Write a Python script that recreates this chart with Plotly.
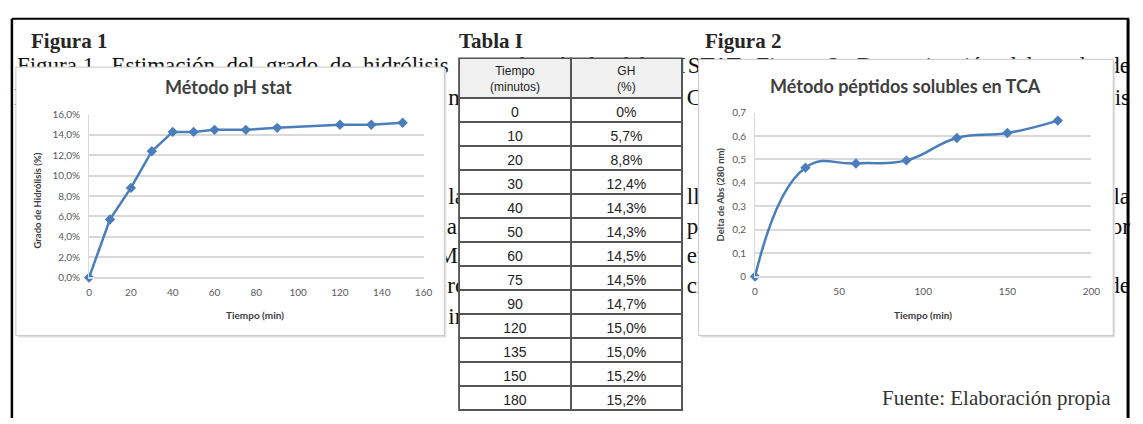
import plotly.graph_objects as go

W, H = 1143, 424

# ---------------- data ----------------
tiempo_ph = [0, 10, 20, 30, 40, 50, 60, 75, 90, 120, 135, 150]
gh_ph = [0.0, 5.7, 8.8, 12.4, 14.3, 14.3, 14.5, 14.5, 14.7, 15.0, 15.0, 15.2]

tiempo_tca = [0, 30, 60, 90, 120, 150, 180]
abs_tca = [0.0, 0.465, 0.483, 0.496, 0.592, 0.613, 0.666]

tabla_tiempo = ["0", "10", "20", "30", "40", "50", "60", "75", "90", "120", "135", "150", "180"]
tabla_gh = ["0%", "5,7%", "8,8%", "12,4%", "14,3%", "14,3%", "14,5%", "14,5%", "14,7%",
            "15,0%", "15,0%", "15,2%", "15,2%"]
tabla_header = ["Tiempo<br>(minutos)", "GH<br>(%)"]

y1_tickvals = [0, 2, 4, 6, 8, 10, 12, 14, 16]
y1_ticktext = ["0,0%", "2,0%", "4,0%", "6,0%", "8,0%", "10,0%", "12,0%", "14,0%", "16,0%"]
x1_tickvals = [0, 20, 40, 60, 80, 100, 120, 140, 160]

y2_tickvals = [0, 0.1, 0.2, 0.3, 0.4, 0.5, 0.6, 0.7]
y2_ticktext = ["0", "0,1", "0,2", "0,3", "0,4", "0,5", "0,6", "0,7"]
x2_tickvals = [0, 50, 100, 150, 200]

# ---------------- helpers ----------------
def px(x):
    return x / W

def py(y):
    return 1 - y / H

BLUE = "#4a7ebb"
GRID = "#d9d9d9"
TICKC = "#595959"
TITLEC = "#404040"
SERIF = "Liberation Serif"
SANS = "Lato"

shapes = []
annotations = []

def body(text, x, y, anchor="left", size=23):
    if anchor == "left":
        x0, x1, pos = x, x + 1, "middle left"
    else:
        x0, x1, pos = x - 1, x, "middle right"
    shapes.append(dict(
        type="rect", xref="paper", yref="paper", layer="below",
        x0=px(x0), x1=px(x1), y0=py(y + 1), y1=py(y - 1),
        line=dict(width=0), fillcolor="rgba(0,0,0,0)",
        label=dict(text=text, font=dict(family=SERIF, size=size, color="#111111"),
                   textposition=pos, xanchor=anchor, yanchor="middle", padding=0),
    ))

NB = "\u00a0"
# occluded body text (drawn beneath the figure boxes)
body(f"Figura 1.{NB} Estimación{NB} del{NB} grado{NB} de{NB} hidrólisis", 11, 57)
body(f"por{NB} el{NB} método{NB} del{NB} pH", 466, 57)
body(f"STAT.{NB} Figura{NB} 2.{NB} Determinación{NB} del{NB} grado{NB} de", 1142, 57, anchor="right")
body("ln", 8, 90)
body("n", 447, 90)
body("CA", 688, 90)
body("sis", 1142, 90, anchor="right")
body("las", 447, 192)
body("ll", 688, 192)
body("la", 1142, 192, anchor="right")
body("la", 439, 223)
body("por", 688, 223)
body("or", 1142, 223, anchor="right")
body("EMS", 422, 253)
body("en", 688, 253)
body("ro", 446, 284)
body("cr", 688, 284)
body("de", 1142, 284, anchor="right")
body("in", 447, 316)

# figure boxes
def box(x0, y0, x1, y1):
    shapes.append(dict(type="rect", xref="paper", yref="paper", layer="below",
                       x0=px(x0 + 2), x1=px(x1 + 2), y0=py(y1 + 2), y1=py(y0 + 2),
                       line=dict(width=0), fillcolor="#e2e2e2"))
    shapes.append(dict(type="rect", xref="paper", yref="paper", layer="below",
                       x0=px(x0), x1=px(x1), y0=py(y1), y1=py(y0),
                       line=dict(width=1, color="#c8c8c8"), fillcolor="white"))

box(13, 62, 446, 339)
box(703, 54, 1122, 339)

# outer frame (kept inside the page)
shapes.append(dict(type="line", xref="paper", yref="paper", layer="below",
                   x0=px(9), x1=px(1138), y0=py(12), y1=py(12), line=dict(color="black", width=2)))
shapes.append(dict(type="line", xref="paper", yref="paper", layer="below",
                   x0=px(9), x1=px(9), y0=py(12), y1=py(H), line=dict(color="black", width=2.5)))
shapes.append(dict(type="line", xref="paper", yref="paper", layer="below",
                   x0=px(1137), x1=px(1137), y0=py(12), y1=py(H), line=dict(color="black", width=3)))

def ann(text, x, y, size, family, color, xanchor="center", angle=0):
    annotations.append(dict(text=text, x=px(x), y=py(y), xref="paper", yref="paper",
                            xanchor=xanchor, yanchor="middle", showarrow=False, textangle=angle,
                            font=dict(family=family, size=size, color=color)))

# headings
ann("<b>Figura 1</b>", 26, 35, 21, SERIF, "#262626", xanchor="left")
ann("<b>Tabla I</b>", 459, 35, 21, SERIF, "#262626", xanchor="left")
ann("<b>Figura 2</b>", 707, 35, 21, SERIF, "#262626", xanchor="left")
ann("Fuente: Elaboración propia", 1122, 403, 21, SERIF, "#333333", xanchor="right")

# table header text (two lines, placed over the grey header cells)
ann(tabla_header[0], 517.5, 74, 12, "Liberation Sans", "#222222")
ann(tabla_header[1], 630.5, 74, 12, "Liberation Sans", "#222222")

# chart titles & axis titles
ann("<b>Método pH stat</b>", 228, 83, 18, SANS, TITLEC)
ann("<b>Método péptidos solubles en TCA</b>", 912, 82, 18, SANS, TITLEC)
ann("<b>Grado de Hidrólisis (%)</b>", 35, 200, 9.5, SANS, TITLEC, angle=-90)
ann("<b>Tiempo (min)</b>", 255, 318, 10, SANS, TITLEC)
ann("<b>Delta de Abs (280 nm)</b>", 725, 193, 9.5, SANS, TITLEC, angle=-90)
ann("<b>Tiempo (min)</b>", 930, 318, 10, SANS, TITLEC)

fig = go.Figure()

fig.add_trace(go.Scatter(
    x=tiempo_ph, y=gh_ph, mode="lines+markers", xaxis="x", yaxis="y",
    line=dict(color=BLUE, width=2.5), marker=dict(symbol="diamond", size=8, color=BLUE),
    cliponaxis=False, showlegend=False, hoverinfo="skip"))

fig.add_trace(go.Scatter(
    x=tiempo_tca, y=abs_tca, mode="lines+markers", xaxis="x2", yaxis="y2",
    line=dict(color=BLUE, width=2.5, shape="spline", smoothing=1.3),
    marker=dict(symbol="diamond", size=8, color=BLUE),
    cliponaxis=False, showlegend=False, hoverinfo="skip"))

fig.add_trace(go.Table(
    domain=dict(x=[px(461), px(687)], y=[py(421), py(53)]),
    columnwidth=[1, 1],
    header=dict(values=["", ""], fill_color="#f0f0f0",
                line=dict(color="#555555", width=2), align="center", height=40,
                font=dict(family="Liberation Sans", size=12, color="#222222")),
    cells=dict(values=[tabla_tiempo, tabla_gh], fill_color="white",
               line=dict(color="#555555", width=2), align="center", height=24,
               font=dict(family="Liberation Sans", size=14, color="#222222")),
))

xcommon = dict(showgrid=False, zeroline=False, showline=True, linecolor=GRID, linewidth=2,
               ticks="", tickfont=dict(family=SANS, size=10, color=TICKC), ticklabelstandoff=5,
               fixedrange=True)
ycommon = dict(showgrid=True, gridcolor=GRID, gridwidth=2, zeroline=False, showline=True,
               linecolor=GRID, linewidth=1, ticks="",
               tickfont=dict(family=SANS, size=10, color=TICKC), ticklabelstandoff=6,
               fixedrange=True)

fig.update_layout(
    width=W, height=H, autosize=False,
    margin=dict(l=0, r=0, t=0, b=0),
    paper_bgcolor="white", plot_bgcolor="rgba(0,0,0,0)",
    xaxis=dict(domain=[px(87), px(425)], range=[0, 160], tickvals=x1_tickvals, anchor="y", **xcommon),
    yaxis=dict(domain=[py(279), py(111)], range=[0, 16], tickvals=y1_tickvals, ticktext=y1_ticktext,
               anchor="x", **ycommon),
    xaxis2=dict(domain=[px(760), px(1100)], range=[0, 200], tickvals=x2_tickvals, anchor="y2", **xcommon),
    yaxis2=dict(domain=[py(278), py(109)], range=[0, 0.7], tickvals=y2_tickvals, ticktext=y2_ticktext,
                anchor="x2", **ycommon),
    shapes=shapes,
    annotations=annotations,
)

fig.write_html("out.html", config={"displayModeBar": False},
               post_script="document.documentElement.style.overflow='hidden';"
                           "document.body.style.margin='0';document.body.style.overflow='hidden';")
